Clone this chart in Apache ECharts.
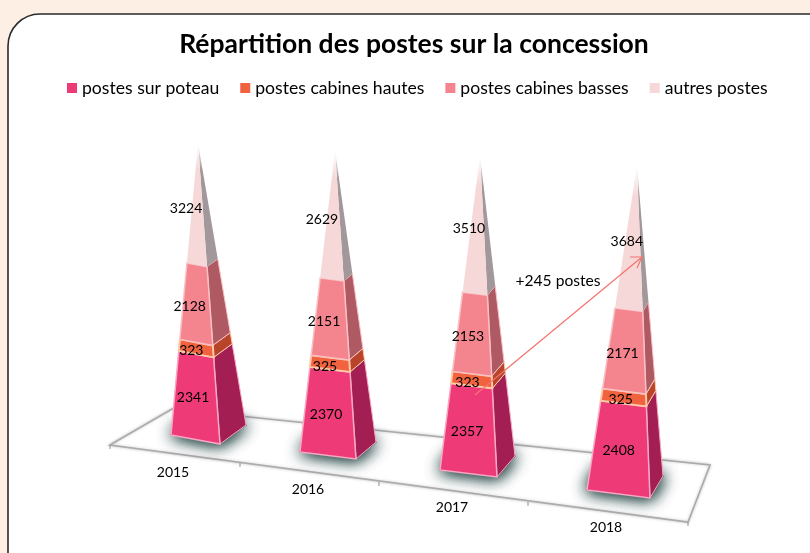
<!DOCTYPE html>
<html>
<head>
<meta charset="utf-8">
<style>html,body{margin:0;padding:0;background:#fdefe3}#c{width:810px;height:553px}</style>
<script src="https://cdn.jsdelivr.net/npm/echarts@6/dist/echarts.min.js"></script>
</head>
<body>
<div id="c"></div>
<script>
const years = ['2015', '2016', '2017', '2018'];
const postesPoteau = [2341, 2370, 2357, 2408];
const postesCabinesHautes = [323, 325, 323, 325];
const postesCabinesBasses = [2128, 2151, 2153, 2171];
const autresPostes = [3224, 2629, 3510, 3684];
const seriesNames = ['postes sur poteau', 'postes cabines hautes', 'postes cabines basses', 'autres postes'];
const seriesValues = [postesPoteau, postesCabinesHautes, postesCabinesBasses, autresPostes];
// value at which each pyramid's tip sits (pyramids rise to the top of the axis)
const axisTop = [8134, 8412, 8560, 8760];

// ---- layout of the tilted 3D scene (not data) ----
const sceneLabelX = [173, 308, 452, 606];
const sceneBaseY = [435, 452, 470, 490];
const sceneHeight = [292, 302, 315, 325];
const sceneFL = [-2, -8, -12, -19];        // front-left corner relative to label x
const sceneFR = [[49, 9], [56, 7], [57, 7], [63, 8]];     // relative to front-left
const sceneBR = [[75, -10], [76, -10], [75, -14], [76, -14]];
const sceneTipX = [27, 35, 40, 50];        // tip relative to front-left
const sceneLabel = [[21.6, -10.7], [19, -6.5], [14.6, 3], [11, 12.6]]; // label x offset and lean
const frontColors = ['#EE3B78', '#F1623F', '#F4858F', '#F6D8D8'];
const sideColors = ['#A31E52', '#B8452A', '#AF5A63', '#A2979A'];
const edgeColors = ['#F7A9C4', '#FFC8A6', '#F9C0C4', '#FBEDED'];
const FONT = 'Lato';

const grids = [], xAxes = [], yAxes = [], series = [];

function lerpPoint(yi, corner, t, coordX, coordY) {
  const fl = sceneFL[yi], tip = sceneTipX[yi];
  return [
    coordX + fl + corner[0] * (1 - t) + tip * t,
    coordY + corner[1] * (1 - t)
  ];
}

years.forEach((year, yi) => {
  grids.push({
    left: sceneLabelX[yi] - 5, width: 10,
    top: sceneBaseY[yi] - sceneHeight[yi], height: sceneHeight[yi],
    containLabel: false
  });
  xAxes.push({
    type: 'category', gridIndex: yi, data: [year],
    axisLine: { show: false }, axisTick: { show: false }, splitLine: { show: false },
    axisLabel: { show: true, interval: 0, margin: 30, color: '#000', fontFamily: FONT, fontSize: 14 }
  });
  yAxes.push({ type: 'value', gridIndex: yi, min: 0, max: axisTop[yi], show: false, splitLine: { show: false } });

  let cumulative = 0;
  seriesNames.forEach((name, si) => {
    const value = seriesValues[si][yi];
    const start = cumulative;
    const end = si === seriesNames.length - 1 ? axisTop[yi] : start + value;
    cumulative += value;
    series.push({
      type: 'custom', name, xAxisIndex: yi, yAxisIndex: yi, clip: false, silent: true,
      z: 5 + si,
      itemStyle: { color: frontColors[si] },
      encode: { x: 0, y: [1, 2] },
      data: [[0, start, end, value]],
      renderItem(params, api) {
        const v0 = api.value(1), v1 = api.value(2), max = axisTop[yi];
        const t0 = v0 / max, t1 = v1 / max;
        const p0 = api.coord([0, v0]), p1 = api.coord([0, v1]);
        const cx = p0[0];
        const FLc = [0, 0], FRc = sceneFR[yi], BRc = sceneBR[yi];
        const pt = (c, t, p) => lerpPoint(yi, c, t, cx, p[1]);
        const front = [pt(FLc, t0, p0), pt(FRc, t0, p0), pt(FRc, t1, p1), pt(FLc, t1, p1)];
        const side = [pt(FRc, t0, p0), pt(BRc, t0, p0), pt(BRc, t1, p1), pt(FRc, t1, p1)];
        const children = [];
        const isTop = si === seriesNames.length - 1;
        if (si === 0) {
          const blc = [BRc[0] - FRc[0], BRc[1] - FRc[1]];
          const grow = 1.02;
          const mid = [BRc[0] / 2, BRc[1] / 2];
          const big = c => [mid[0] + (c[0] - mid[0]) * grow, mid[1] + (c[1] - mid[1]) * grow];
          const pts = [pt(big(FLc), 0, p0), pt(big(FRc), 0, p0), pt(big(BRc), 0, p0), pt(big(blc), 0, p0)];
          for (let k = 0; k < 3; k++) {
            children.push({
              type: 'polygon', shape: { points: pts },
              style: { fill: '#4f6b6b', shadowBlur: 16, shadowColor: 'rgba(60,90,90,0.95)' }
            });
          }
        }
        const fade = c => new echarts.graphic.LinearGradient(0, 0, 0, 1, [
          { offset: 0, color: '#ffffff' }, { offset: 0.22, color: c }, { offset: 1, color: c }
        ]);
        children.push({
          type: 'polygon', shape: { points: side },
          style: { fill: isTop ? fade(sideColors[si]) : sideColors[si], stroke: isTop ? null : edgeColors[si], lineWidth: 1 }
        });
        children.push({
          type: 'polygon', shape: { points: front },
          style: { fill: isTop ? fade(frontColors[si]) : frontColors[si], stroke: isTop ? null : edgeColors[si], lineWidth: si === 1 ? 2 : 1.5 }
        });
        const tm = (t0 + t1) / 2;
        const lab = sceneLabel[yi];
        children.push({
          type: 'text', z2: 50,
          style: {
            text: String(api.value(3)), x: cx + lab[0] + lab[1] * tm,
            y: (p0[1] + p1[1]) / 2 + 5, fill: '#000',
            font: '14px ' + FONT, align: 'center', verticalAlign: 'middle'
          }
        });
        return { type: 'group', children };
      }
    });
  });
});

// tilted floor and its ticks
const floorPts = [[110, 445], [172, 409], [710, 465], [688, 522]];
const tickX = [[110, 445], [240, 463], [379, 482], [528, 502], [688, 522]];
const graphicEls = [
  { type: 'rect', z: -10, shape: { x: 8, y: 14, width: 900, height: 700, r: [32, 0, 0, 0] },
    style: { fill: '#fff', stroke: '#2a2a2a', lineWidth: 1.6 } },
  { type: 'polygon', z: -5, shape: { points: floorPts },
    style: { fill: '#fff', stroke: '#ababab', lineWidth: 1.6, shadowBlur: 3, shadowColor: 'rgba(120,120,120,0.4)' } }
];
tickX.forEach(p => graphicEls.push({ type: 'line', z: -4,
  shape: { x1: p[0], y1: p[1], x2: p[0], y2: p[1] + 4 }, style: { stroke: '#8f8f8f', lineWidth: 1 } }));
// annotation arrow
graphicEls.push({ type: 'line', z: 100, shape: { x1: 475, y1: 395, x2: 642, y2: 257 }, style: { stroke: '#F4736E', lineWidth: 1.2 } });
graphicEls.push({ type: 'polyline', z: 100, shape: { points: [[630, 257], [642, 257], [637, 268]] }, style: { fill: null, stroke: '#F4736E', lineWidth: 1.2 } });
graphicEls.push({ type: 'text', z: 100, x: 558, y: 281,
  style: { text: '+245 postes', fill: '#000', font: '15.6px ' + FONT, align: 'center', verticalAlign: 'middle' } });

const chart = echarts.init(document.getElementById('c'), null, { width: 810, height: 553 });
chart.setOption({
  animation: false,
  backgroundColor: '#fdefe3',
  title: {
    text: 'Répartition des postes sur la concession', left: 409, top: 26, textAlign: 'center',
    textStyle: { fontFamily: FONT, fontWeight: 'bold', fontSize: 26.5, color: '#000' }
  },
  legend: {
    data: seriesNames, left: 62, top: 74, itemWidth: 10, itemHeight: 10, itemGap: 21,
    icon: 'rect', selectedMode: false,
    textStyle: { fontFamily: FONT, fontSize: 17.6, color: '#000' }
  },
  grid: grids, xAxis: xAxes, yAxis: yAxes, series,
  graphic: { elements: graphicEls }
});
</script>
</body>
</html>
